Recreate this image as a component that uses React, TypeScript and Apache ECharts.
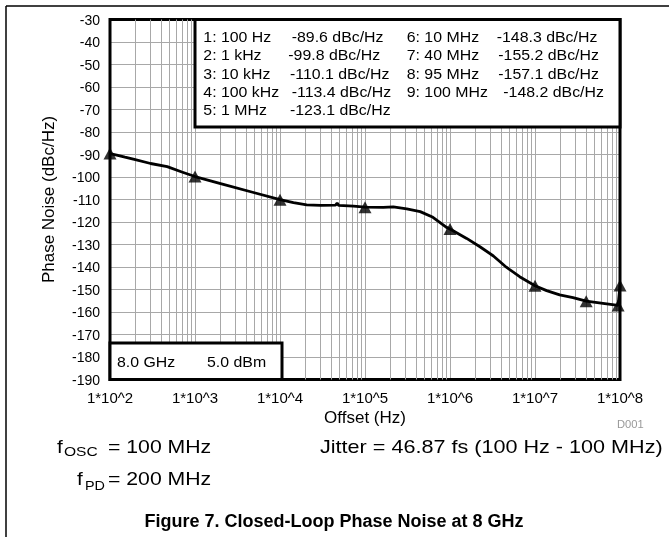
import React, { useEffect, useRef } from "react";
import * as echarts from "echarts";

// ---- data ----
const curveFreqHz = [
  100, 120, 150, 188, 300, 471, 700, 1000, 2000, 5000, 10000, 14400, 20600, 30000, 45000, 47000, 49000,
  73000, 100000, 164000, 215000, 310000, 446000, 630000, 910000, 1000000, 1570000, 2250000, 3240000,
  4600000, 6600000, 10000000, 13700000, 19500000, 28000000, 40000000, 63000000, 95000000, 100000000,
];
const curveNoise = [
  -89.6, -90.3, -91.2, -92.1, -94.0, -95.4, -97.8, -99.8, -102.9, -107.0, -110.1, -111.4, -112.4, -112.6,
  -112.5, -111.6, -112.6, -112.9, -113.4, -113.5, -113.3, -114.2, -115.4, -117.9, -122.4, -123.1, -127.3,
  -131.0, -135.1, -140.1, -144.3, -148.3, -150.5, -152.4, -153.6, -155.2, -156.2, -157.1, -148.2,
];
const markerFreqHz = [100, 1000, 10000, 100000, 1000000, 10000000, 40000000, 95000000, 100000000];
const markerNoise = [-89.6, -99.8, -110.1, -113.4, -123.1, -148.3, -155.2, -157.1, -148.2];
const markerLabels = ["100 Hz", "1 kHz", "10 kHz", "100 kHz", "1 MHz", "10 MHz", "40 MHz", "95 MHz", "100 MHz"];
const minorGridFreqHz: number[] = [];
for (let d = 2; d < 8; d++) for (let m = 2; m <= 9; m++) minorGridFreqHz.push(m * Math.pow(10, d));
const yTickMin = -190;
const yTickMax = -30;
const yTickStep = 10;

const FONT = '"Liberation Sans", Arial, sans-serif';
const GRID_COLOR = "#a8a8a8";

function txt(x: number, y: number, text: string, size: number, extra: any = {}) {
  const { scaleX = 1, align = "left", weight = "normal", fill = "#000", z = 20 } = extra;
  return {
    type: "text",
    x,
    y,
    scaleX,
    z,
    silent: true,
    style: {
      text,
      x: 0,
      y: 0,
      fill,
      fontSize: size,
      fontFamily: FONT,
      fontWeight: weight,
      align,
      verticalAlign: "middle",
      textAlign: align,
      textVerticalAlign: "middle",
    },
  };
}

export default function App() {
  const ref = useRef<HTMLDivElement>(null);
  useEffect(() => {
    if (!ref.current) return;
    const chart = echarts.init(ref.current, undefined, { renderer: "svg" });

    const plotL = 110, plotT = 19.5, plotW = 510, plotH = 360;

    const legendRowY = (i: number) => 37 + i * 18.1;
    const leftValX = [291.7, 288.3, 290, 291.7, 290];
    const rightValX = [496.7, 498.3, 498.3, 503.3];
    const legendTexts: any[] = [];
    markerLabels.forEach((lab, i) => {
      const left = i < 5;
      const row = left ? i : i - 5;
      const y = legendRowY(row);
      legendTexts.push(txt(left ? 203.3 : 406.7, y, `${i + 1}: ${lab}`, 15, { scaleX: 1.06 }));
      legendTexts.push(
        txt(left ? leftValX[row] : rightValX[row], y, `${markerNoise[i].toFixed(1)} dBc/Hz`, 15, { scaleX: 1.06 })
      );
    });

    chart.setOption({
      animation: false,
      textStyle: { fontFamily: FONT },
      grid: { left: plotL, top: plotT, right: 669 - plotL - plotW, bottom: 537 - plotT - plotH, containLabel: false },
      xAxis: {
        type: "log",
        logBase: 10,
        min: 100,
        max: 100000000,
        name: "Offset (Hz)",
        nameLocation: "middle",
        nameGap: 29,
        nameTextStyle: { fontSize: 17, color: "#000", fontFamily: FONT },
        axisLine: { show: false },
        axisTick: { show: false },
        axisLabel: {
          color: "#000",
          fontSize: 15,
          fontFamily: FONT,
          margin: 10,
          formatter: (v: number) => `1*10^${Math.round(Math.log10(v))}`,
        },
        splitLine: { show: true, lineStyle: { color: GRID_COLOR, width: 1 } },
      },
      yAxis: {
        type: "value",
        min: yTickMin,
        max: yTickMax,
        interval: yTickStep,
        name: "Phase Noise (dBc/Hz)",
        nameLocation: "middle",
        nameGap: 53,
        nameTextStyle: { fontSize: 17, color: "#000", fontFamily: FONT },
        axisLine: { show: false },
        axisTick: { show: false },
        axisLabel: { color: "#000", fontSize: 14, fontFamily: FONT, margin: 10 },
        splitLine: { show: true, lineStyle: { color: GRID_COLOR, width: 1 } },
      },
      series: [
        {
          type: "line",
          z: 1,
          data: [[100, -30]],
          showSymbol: false,
          lineStyle: { opacity: 0 },
          silent: true,
          markLine: {
            silent: true,
            symbol: ["none", "none"],
            label: { show: false },
            lineStyle: { color: GRID_COLOR, width: 1, type: "solid" },
            emphasis: { disabled: true },
            data: minorGridFreqHz.map((f) => ({ xAxis: f })),
          },
        },
        {
          type: "line",
          z: 10,
          data: curveFreqHz.map((f, i) => [f, curveNoise[i]]),
          showSymbol: false,
          lineStyle: { color: "#000", width: 2.8 },
          silent: true,
        },
        {
          type: "scatter",
          z: 11,
          clip: false,
          data: markerFreqHz.map((f, i) => [f, markerNoise[i]]),
          symbol: "triangle",
          symbolSize: [13, 12],
          itemStyle: { color: "#000" },
          silent: true,
        },
      ],
      graphic: [
        // outer frame
        { type: "line", z: 5, shape: { x1: 6, y1: 6, x2: 669, y2: 6 }, style: { stroke: "#000", lineWidth: 1.5 } },
        { type: "line", z: 5, shape: { x1: 6, y1: 6, x2: 6, y2: 537 }, style: { stroke: "#000", lineWidth: 1.5 } },
        // plot border
        {
          type: "rect",
          z: 5,
          shape: { x: plotL, y: plotT, width: plotW, height: plotH },
          style: { fill: "none", stroke: "#000", lineWidth: 3 },
        },
        // legend box
        {
          type: "rect",
          z: 6,
          shape: { x: 195, y: plotT, width: plotL + plotW - 195, height: 107.5 },
          style: { fill: "#fff", stroke: "#000", lineWidth: 3 },
        },
        ...legendTexts,
        // bottom-left box
        {
          type: "rect",
          z: 6,
          shape: { x: plotL, y: 343, width: 172, height: plotT + plotH - 343 },
          style: { fill: "#fff", stroke: "#000", lineWidth: 3 },
        },
        txt(117, 362, "8.0 GHz", 15, { scaleX: 1.06 }),
        txt(207, 362, "5.0 dBm", 15, { scaleX: 1.06 }),
        txt(617, 424, "D001", 10, { fill: "#999", scaleX: 1.12 }),
        // notes
        txt(57, 447, "f", 18, { scaleX: 1.15 }),
        txt(64, 452, "OSC", 12, { scaleX: 1.3 }),
        txt(108, 447, "= 100 MHz", 18, { scaleX: 1.18 }),
        txt(77, 479, "f", 18, { scaleX: 1.15 }),
        txt(85, 486, "PD", 12, { scaleX: 1.2 }),
        txt(108, 479, "= 200 MHz", 18, { scaleX: 1.18 }),
        txt(320, 447, "Jitter = 46.87 fs (100 Hz - 100 MHz)", 18, { scaleX: 1.2 }),
        txt(334, 521, "Figure 7. Closed-Loop Phase Noise at 8 GHz", 18, { align: "center", weight: "bold" }),
      ],
    });
    return () => chart.dispose();
  }, []);
  return <div ref={ref} style={{ position: "fixed", left: 0, top: 0, width: 669, height: 537 }} />;
}
